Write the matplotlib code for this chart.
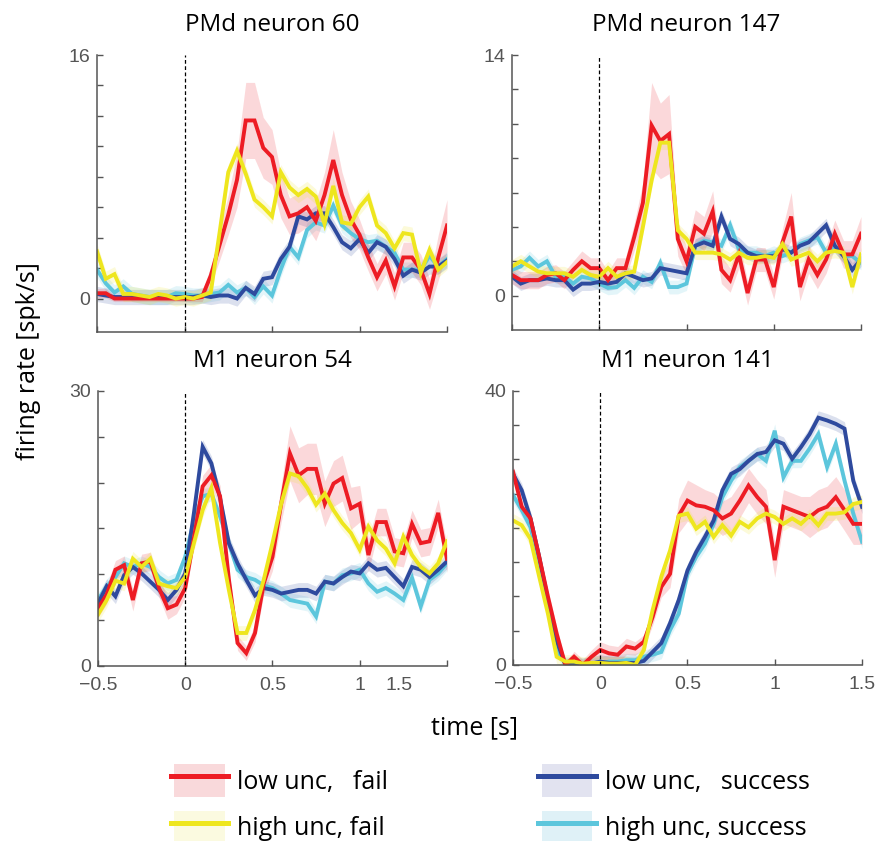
import numpy as np
import matplotlib
matplotlib.use('Agg')
import matplotlib.pyplot as plt
from matplotlib.patches import Patch, Rectangle
from matplotlib.lines import Line2D
from matplotlib.legend_handler import HandlerTuple, HandlerPatch
from matplotlib.transforms import blended_transform_factory

# time bins, 50 ms steps from -0.5 to 1.5 s
time_s = np.arange(41) * 0.05 - 0.5

titles = ['PMd neuron 60', 'PMd neuron 147', 'M1 neuron 54', 'M1 neuron 141']
y_max = [16, 14, 30, 40]
y_min = [-2.2, -2.0, 0, 0]
y_step = [2, 2, 5, 5]

labels = ['low unc,   fail', 'high unc, fail', 'low unc,   success', 'high unc, success']
line_colors = ['#ED1C24', '#EEE61E', '#2E4A9E', '#5CC6DC']
shade_colors = ['#F9D9DB', '#FBFAE0', '#E2E3F0', '#DFF1F7']

# PMd neuron 60
pmd60_low_fail = [0.35, 0.35, 0, 0, 0, 0, 0, 0, 0, 0, 0, 0, 0.1, 1.5, 3.5, 5.5, 7.8, 11.7, 11.7, 9.9,
                  9.3, 6.8, 5.4, 5.6, 6.0, 5.1, 6.8, 9.1, 6.8, 5.2, 4.2, 2.7, 1.4, 2.5, 0.8, 2.7, 2.7, 1.9,
                  0.3, 2.7, 4.8]
pmd60_high_fail = [3.1, 1.3, 1.6, 0.3, 0.3, 0.2, 0.1, 0.3, 0.2, 0, 0.1, 0, 0.2, 0.4, 4.3, 8.3, 9.7, 8.2,
                   6.5, 6.0, 5.4, 8.3, 7.3, 6.8, 7.2, 6.7, 4.9, 7.4, 5.0, 4.9, 6.0, 6.7, 4.8, 4.3, 3.3, 4.3,
                   4.2, 1.7, 3.2, 1.9, 2.4]
pmd60_low_succ = [0.3, 0.2, 0.1, 0.1, 0.1, 0.1, 0.1, 0.1, 0.1, 0.1, 0.1, 0.1, 0.2, 0.1, 0.2, 0.2, 0, 0.7,
                  0.3, 1.3, 1.4, 2.6, 3.4, 5.4, 5.2, 5.6, 5.6, 4.7, 3.7, 3.3, 3.9, 3.0, 3.7, 3.4, 2.6, 1.5,
                  1.9, 1.7, 2.1, 2.1, 2.5]
pmd60_high_succ = [1.9, 1.0, 0.4, 0.8, 0.3, 0.2, 0.1, 0.1, 0.1, 0.35, 0.3, 0.2, 0.2, 0.3, 0.4, 0.9, 0.4,
                   0.7, 0.1, 0.8, 0.2, 1.9, 3.4, 2.7, 4.5, 5.0, 4.8, 6.1, 4.8, 4.3, 3.9, 3.7, 3.8, 3.4, 3.0,
                   1.9, 1.9, 1.9, 2.8, 2.1, 2.6]
pmd60_red_err = [0.3, 0.3, 0.2, 0.2, 0.2, 0.2, 0.2, 0.2, 0.2, 0.2, 0.2, 0.2, 0.3, 0.6, 1.0, 1.3, 1.8, 2.5,
                 2.5, 2.0, 1.8, 1.5, 1.2, 1.3, 1.3, 1.3, 1.5, 2.0, 1.5, 1.2, 1.0, 0.9, 0.9, 0.9, 0.9, 1.0,
                 1.0, 1.0, 1.0, 1.5, 1.7]

# PMd neuron 147
pmd147_low_fail = [1.2, 0.9, 0.9, 0.9, 1.2, 1.3, 0.9, 1.5, 2.0, 1.6, 1.6, 0.9, 1.6, 1.6, 3.4, 5.4, 9.9, 9.0,
                   9.4, 3.3, 2.0, 4.0, 3.6, 4.9, 1.5, 0.9, 2.4, 0.15, 2.1, 2.1, 0.5, 3.1, 4.6, 0.5, 2.1,
                   1.2, 2.1, 3.6, 2.4, 2.4, 3.6]
pmd147_high_fail = [1.7, 2.0, 1.7, 1.4, 1.3, 1.3, 1.3, 1.1, 1.5, 1.2, 1.1, 1.6, 1.1, 1.3, 1.4, 4.0, 6.7, 8.9,
                    8.9, 3.8, 3.3, 2.5, 2.5, 2.5, 2.4, 2.1, 2.5, 2.2, 2.2, 2.3, 2.2, 3.0, 2.1, 2.3, 2.5, 2.0,
                    2.5, 2.6, 2.5, 0.5, 2.4]
pmd147_low_succ = [1.1, 0.7, 0.9, 0.9, 1.0, 0.9, 0.9, 0.35, 0.7, 0.7, 0.8, 0.7, 0.8, 1.3, 1.1, 0.9, 1.0, 1.6,
                   1.5, 1.4, 1.3, 2.9, 3.1, 2.9, 4.6, 3.3, 3.0, 2.5, 2.3, 2.3, 2.3, 2.7, 2.5, 2.9, 3.1, 3.6,
                   4.1, 2.9, 2.3, 1.5, 2.1]
pmd147_high_succ = [1.5, 1.7, 2.2, 1.7, 2.0, 1.1, 1.1, 0.7, 1.1, 1.0, 0.7, 0.45, 0.5, 0.9, 0.45, 1.1, 0.8,
                    1.9, 0.5, 0.5, 0.7, 2.9, 3.2, 3.1, 2.9, 4.1, 2.7, 2.5, 2.5, 2.3, 2.5, 2.3, 2.5, 3.0, 3.2,
                    3.4, 2.5, 2.9, 2.3, 2.3, 1.9]
pmd147_red_err = [0.5, 0.5, 0.5, 0.5, 0.5, 0.5, 0.5, 0.5, 0.6, 0.6, 0.6, 0.5, 0.6, 0.6, 0.8, 1.2, 2.5, 2.2,
                  2.3, 1.0, 0.8, 1.0, 1.0, 1.2, 0.8, 0.7, 0.8, 0.7, 0.7, 0.7, 0.7, 0.8, 1.4, 0.8, 0.8, 0.8,
                  0.8, 0.8, 0.8, 0.8, 1.0]

# M1 neuron 54
m154_low_fail = [6.3, 7.8, 10.5, 11.0, 7.2, 11.2, 11.4, 8.5, 6.3, 6.7, 8.5, 14.0, 19.6, 20.8, 18.5, 9.5, 2.5,
                 1.4, 3.6, 9.0, 11.9, 17.7, 23.2, 20.8, 21.5, 21.5, 17.7, 19.9, 20.5, 17.2, 17.7, 12.1, 15.7,
                 15.7, 12.5, 12.3, 15.5, 13.4, 13.6, 16.7, 11.7]
m154_high_fail = [5.6, 7.2, 9.3, 9.0, 11.7, 10.8, 11.7, 9.0, 8.7, 8.5, 9.7, 13.4, 17.0, 19.4, 13.4, 8.3, 3.6,
                  3.6, 6.1, 9.4, 13.4, 17.7, 21.0, 20.7, 19.4, 17.6, 18.8, 17.0, 15.6, 14.5, 12.7, 15.2, 13.7,
                  12.8, 11.2, 14.1, 12.1, 10.8, 10.1, 11.2, 13.6]
m154_low_succ = [6.8, 8.7, 7.6, 9.9, 10.8, 10.1, 9.2, 8.3, 7.2, 8.3, 10.1, 16.7, 23.9, 22.1, 18.3, 13.4, 11.2,
                 9.4, 7.7, 8.5, 8.3, 7.9, 8.1, 8.3, 8.3, 7.9, 9.2, 9.0, 9.7, 10.3, 10.1, 11.2, 10.5, 10.7, 9.7,
                 8.7, 10.8, 10.5, 9.7, 10.5, 11.4]
m154_high_succ = [7.2, 8.7, 9.7, 11.2, 10.8, 11.2, 10.8, 9.7, 9.0, 9.4, 11.9, 15.9, 18.5, 18.8, 16.3, 13.4,
                  10.5, 9.7, 9.4, 8.8, 8.5, 7.9, 7.2, 7.0, 6.8, 5.4, 9.2, 9.0, 9.9, 10.1, 10.5, 9.0, 8.1, 8.5,
                  7.9, 7.2, 9.6, 6.5, 9.4, 10.1, 11.2]
m154_red_err = [1.0, 1.0, 1.0, 1.0, 1.2, 1.0, 1.0, 1.0, 1.2, 1.0, 1.0, 1.0, 1.2, 1.2, 1.2, 1.0, 0.8, 0.8, 1.0,
                1.2, 1.5, 2.0, 3.0, 3.0, 2.8, 2.8, 2.5, 2.5, 2.5, 2.3, 2.0, 1.8, 1.5, 1.5, 1.5, 1.5, 1.5, 1.5,
                1.5, 1.5, 1.5]

# M1 neuron 141
m1141_low_fail = [28.2, 23.1, 21.4, 15.8, 10.0, 4.6, 0, 1.2, 0, 1.2, 2.2, 1.7, 1.5, 2.7, 2.4, 3.4, 7.0, 11.4,
                  13.3, 21.8, 24.0, 23.3, 23.1, 22.6, 21.4, 22.1, 24.0, 26.2, 24.5, 23.1, 15.3, 23.1, 22.6,
                  22.1, 21.6, 22.6, 23.1, 24.5, 22.6, 20.6, 20.6]
m1141_high_fail = [21.1, 20.4, 18.4, 12.9, 7.5, 1.2, 0.5, 0.5, 0.2, 0.3, 0.3, 0.2, 0.2, 0.3, 0, 2.2, 8.0,
                   12.9, 16.7, 21.8, 22.1, 19.9, 20.9, 18.7, 20.4, 18.9, 20.9, 20.1, 21.4, 22.1, 21.6, 20.6,
                   21.4, 20.6, 21.8, 20.4, 22.1, 22.1, 22.3, 23.5, 23.8]
m1141_low_succ = [27.9, 25.5, 21.4, 15.8, 9.5, 3.6, 0, 0, 0, 0.2, 0.5, 0.3, 0.3, 0.3, 0.3, 0.6, 1.9, 3.2,
                  6.1, 9.5, 13.8, 16.5, 18.7, 21.1, 25.5, 27.9, 28.6, 29.8, 30.8, 31.1, 32.8, 32.3, 30.1,
                  31.8, 33.7, 36.1, 35.7, 35.2, 34.5, 26.9, 23.1]
m1141_high_succ = [24.8, 22.6, 20.1, 14.8, 9.0, 2.2, 0.2, 0.2, 0.1, 0, 0.2, 0.5, 0.5, 0.7, 0.7, 1.2, 1.5,
                   1.9, 5.1, 7.5, 13.3, 15.8, 17.7, 20.6, 24.5, 26.9, 28.9, 29.8, 30.8, 29.8, 34.2, 27.4,
                   29.8, 29.8, 31.6, 33.7, 28.9, 32.3, 26.9, 22.1, 18.0]
m1141_red_err = [1.0, 1.0, 1.0, 1.0, 1.0, 1.0, 0.5, 0.8, 0.8, 1.0, 1.2, 1.2, 1.2, 1.2, 1.0, 1.0, 1.2, 1.5,
                 2.0, 2.5, 3.0, 3.0, 2.5, 2.5, 2.5, 2.5, 2.5, 2.5, 2.5, 2.5, 2.5, 2.5, 2.5, 2.5, 3.0, 3.0,
                 3.0, 3.0, 3.0, 3.0, 3.0]

# sem of the other three conditions, one value per panel
other_err = [0.5, 0.4, 0.8, 1.0]


def style_axes(ax, k):
    ax.set_xlim(-0.5, 1.5)
    ax.set_ylim(y_min[k], y_max[k])
    ax.spines['top'].set_visible(False)
    ax.spines['right'].set_visible(False)
    for s in ('left', 'bottom'):
        ax.spines[s].set_color('#555555')
        ax.spines[s].set_linewidth(1.1)
    yt = np.arange(0, y_max[k] + 0.1, y_step[k])
    ax.set_yticks(yt)
    ax.set_yticklabels(['0'] + [''] * (len(yt) - 2) + [str(y_max[k])])
    ax.set_xticks([-0.5, 0, 0.5, 1, 1.5])
    ax.tick_params(direction='in', length=4, width=1.0, color='#555555', labelcolor='#555555',
                   labelsize=14)
    ax.tick_params(axis='y', pad=5)
    ax.tick_params(axis='x', pad=8)
    for lab in ax.get_yticklabels() + ax.get_xticklabels():
        lab.set_fontfamily('Liberation Sans')
    ax.set_title(titles[k], fontsize=17.5, fontfamily='Open Sans', pad=17)


def inset_patch(legend, orig_handle, xdescent, ydescent, width, height, fontsize):
    # shade box a bit narrower than the line drawn over it
    inset = 0.06 * width
    return Rectangle((-xdescent + inset, -ydescent), width - 2 * inset, height)


def main():
    fig = plt.figure(figsize=(8.81, 8.41), dpi=100)
    positions = [[0.1101, 0.6052, 0.3973, 0.3294],
                 [0.5812, 0.6076, 0.3961, 0.3270],
                 [0.1112, 0.2081, 0.3961, 0.3270],
                 [0.5823, 0.2093, 0.3961, 0.3258]]
    panels = [
        (pmd60_low_fail, pmd60_high_fail, pmd60_low_succ, pmd60_high_succ, pmd60_red_err),
        (pmd147_low_fail, pmd147_high_fail, pmd147_low_succ, pmd147_high_succ, pmd147_red_err),
        (m154_low_fail, m154_high_fail, m154_low_succ, m154_high_succ, m154_red_err),
        (m1141_low_fail, m1141_high_fail, m1141_low_succ, m1141_high_succ, m1141_red_err),
    ]

    for k, (low_fail, high_fail, low_succ, high_succ, red_err) in enumerate(panels):
        ax = fig.add_axes(positions[k])
        series = [np.array(low_fail), np.array(high_fail), np.array(low_succ), np.array(high_succ)]
        errs = [np.array(red_err), other_err[k], other_err[k], other_err[k]]
        # draw order: cyan, blue, red, yellow (yellow ends on top)
        for i in (3, 2, 0, 1):
            ax.fill_between(time_s, series[i] - errs[i], series[i] + errs[i],
                            color=line_colors[i], alpha=0.17, linewidth=0)
        for i in (3, 2, 0, 1):
            ax.plot(time_s, series[i], color=line_colors[i], lw=2.8, solid_joinstyle='miter')
        ax.axvline(0, color='black', lw=0.9, ls=(0, (3, 2)))
        style_axes(ax, k)
        if k < 2:
            ax.set_xticklabels([])
        elif k == 2:
            # the original figure has the 1.5 label squeezed next to 1
            ax.set_xticklabels(['\u22120.5', '0', '0.5', '1', ''])
            trans = blended_transform_factory(ax.transData, ax.transAxes)
            ax.text(1.225, -0.041, '1.5', transform=trans, ha='center', va='top', fontsize=14,
                    color='#555555', fontfamily='Liberation Sans')
        else:
            ax.set_xticklabels(['\u22120.5', '0', '0.5', '1', '1.5'])

    fig.text(0.032, 0.5707, 'firing rate [spk/s]', rotation=90, ha='center', va='center',
             fontsize=18, fontfamily='Open Sans')
    fig.text(0.539, 0.1344, 'time [s]', ha='center', va='center', fontsize=18, fontfamily='Open Sans')

    handles = [(Patch(facecolor=shade_colors[i], edgecolor='none'),
                Line2D([], [], color=line_colors[i], lw=3.6)) for i in range(4)]
    fig.legend(handles, labels,
               handler_map={tuple: HandlerTuple(ndivide=1, pad=0),
                            Patch: HandlerPatch(patch_func=inset_patch)},
               loc='upper left', bbox_to_anchor=(0.194, 0.0915), ncol=2, frameon=False,
               borderpad=0, borderaxespad=0, handlelength=2.3, handleheight=1.65,
               handletextpad=0.36, labelspacing=0.55, columnspacing=6.0,
               prop={'family': 'Open Sans', 'size': 18})

    fig.savefig('out.png', dpi=100)


if __name__ == '__main__':
    main()
